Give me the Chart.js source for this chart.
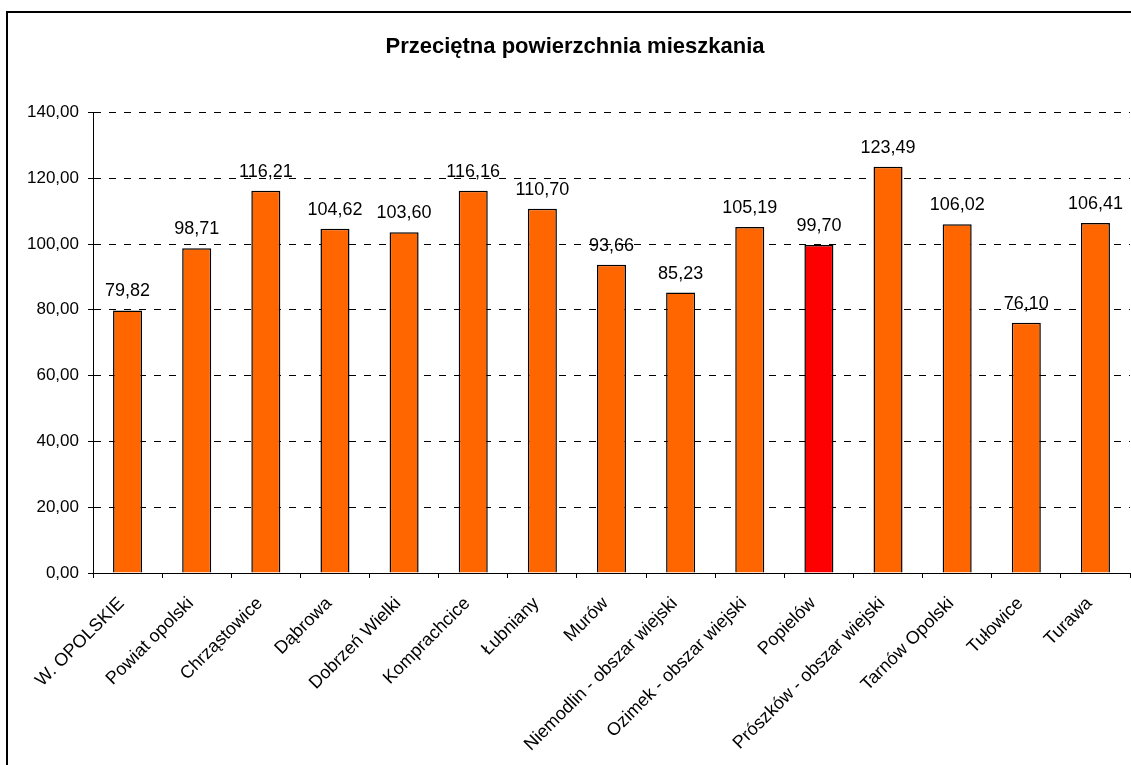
<!DOCTYPE html>
<html>
<head>
<meta charset="utf-8">
<script src="https://cdn.jsdelivr.net/npm/chart.js@4/dist/chart.umd.min.js"></script>
<style>
html,body{margin:0;padding:0;background:#fff;}
#wrap{width:1131px;height:765px;position:relative;}
</style>
</head>
<body>
<div id="wrap"><canvas id="chart"></canvas></div>
<script>
const categories = [
  'W. OPOLSKIE', 'Powiat opolski', 'Chrząstowice', 'Dąbrowa', 'Dobrzeń Wielki',
  'Komprachcice', 'Łubniany', 'Murów', 'Niemodlin - obszar wiejski',
  'Ozimek - obszar wiejski', 'Popielów', 'Prószków - obszar wiejski',
  'Tarnów Opolski', 'Tułowice', 'Turawa'
];
const values = [79.82, 98.71, 116.21, 104.62, 103.60, 116.16, 110.70, 93.66, 85.23, 105.19, 99.70, 123.49, 106.02, 76.10, 106.41];
const highlight = 'Popielów';
const chartTitle = 'Przeciętna powierzchnia mieszkania';

const FONT = "'Liberation Sans', Arial, sans-serif";

function fmt(v){
  return v.toFixed(2).replace('.', ',');
}

// frame + white background, like the Excel chart area
const framePlugin = {
  id: 'frame',
  beforeDraw(chart){
    const ctx = chart.ctx;
    ctx.save();
    ctx.fillStyle = '#fff';
    ctx.fillRect(0, 0, chart.width, chart.height);
    ctx.strokeStyle = '#000';
    ctx.lineWidth = 2;
    ctx.beginPath();
    ctx.moveTo(7, chart.height + 5);
    ctx.lineTo(7, 12);
    ctx.lineTo(chart.width + 5, 12);
    ctx.stroke();
    ctx.restore();
  }
};

// value labels above bars
const valueLabels = {
  id: 'valueLabels',
  afterDatasetsDraw(chart){
    const ctx = chart.ctx;
    const meta = chart.getDatasetMeta(0);
    ctx.save();
    ctx.fillStyle = '#000';
    ctx.font = '18px ' + FONT;
    ctx.textAlign = 'center';
    ctx.textBaseline = 'alphabetic';
    meta.data.forEach((bar, i) => {
      ctx.fillText(fmt(values[i]), bar.x, bar.y - 14);
    });
    ctx.restore();
  }
};

new Chart(document.getElementById('chart'), {
  type: 'bar',
  data: {
    labels: categories,
    datasets: [{
      data: values,
      backgroundColor: categories.map(c => c === highlight ? '#ff0000' : '#ff6600'),
      borderColor: '#000',
      borderWidth: 1.5,
      barPercentage: 0.42,
      categoryPercentage: 1
    }]
  },
  options: {
    responsive: true,
    maintainAspectRatio: false,
    animation: false,
    // left padding 20 + axis width 73 keeps the plot at x=93 and centres the title at ~575
    layout: {padding: {left: 20, right: 1, top: 0, bottom: 0}},
    plugins: {
      legend: {display: false},
      tooltip: {enabled: false},
      title: {
        display: true,
        text: chartTitle,
        color: '#000',
        font: {family: FONT, size: 22, weight: 'bold'},
        padding: {top: 34, bottom: 52}
      }
    },
    scales: {
      x: {
        offset: true,
        grid: {display: true, drawOnChartArea: false, offset: true, color: '#000', tickLength: 5},
        border: {display: true, color: '#000', width: 1},
        ticks: {
          color: '#000',
          font: {family: FONT, size: 18},
          minRotation: 45,
          maxRotation: 45,
          autoSkip: false,
          padding: 15,
          labelOffset: -6
        },
        afterFit(scale){ scale.height = 192; }
      },
      y: {
        min: 0,
        max: 140,
        grid: {color: '#000', tickLength: 5, tickBorderDash: []},
        border: {display: true, color: '#000', width: 1, dash: [7, 8]},
        ticks: {
          stepSize: 20,
          color: '#000',
          font: {family: FONT, size: 17},
          padding: 9,
          callback: v => fmt(v)
        },
        afterFit(scale){ scale.width = 73; }
      }
    }
  },
  plugins: [framePlugin, valueLabels]
});
</script>
</body>
</html>
